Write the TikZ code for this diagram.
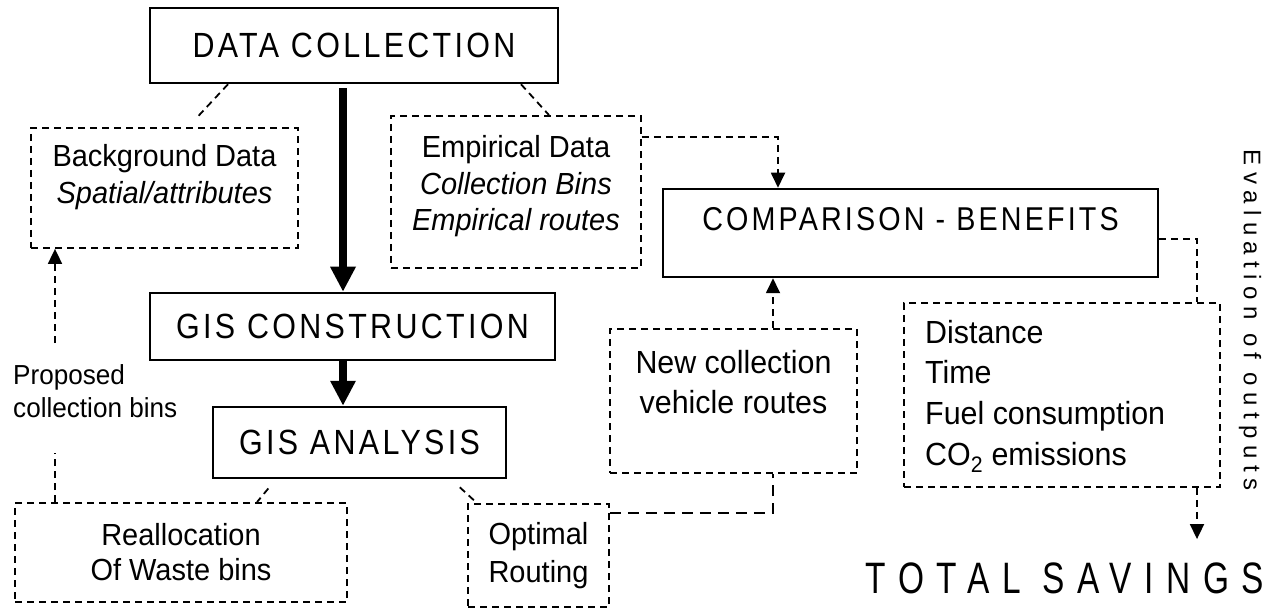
\documentclass[tikz,border=0pt]{standalone}
\usepackage{fontspec}
\setmainfont{Liberation Sans}[FakeStretch=0.95]
\newfontfamily\titlefont[FakeStretch=0.87, LetterSpace=9.5]{Liberation Sans}
\newfontfamily\totalfont[FakeStretch=0.76, LetterSpace=28.5]{Liberation Sans}
\newfontfamily\evalfont[LetterSpace=27]{Liberation Sans}
\usetikzlibrary{arrows.meta}

\begin{document}
\begin{tikzpicture}[
    x=1pt, y=-1pt,
    solidbox/.style={draw, line width=2.5pt, inner sep=0pt},
    dashbox/.style={draw, line width=1.8pt, dash pattern=on 7pt off 5pt, inner sep=0pt},
    boxtext/.style={align=center, inner sep=0pt, font=\fontsize{30.5}{36.5}\selectfont},
    titletext/.style={inner sep=0pt, font=\titlefont\fontsize{35}{40}\selectfont},
    mainflow/.style={draw, line width=8pt, -{Triangle[length=25pt, width=24pt]}},
    link/.style={draw, line width=1.8pt, dash pattern=on 7pt off 5pt},
    linkarrow/.style={link, -{Triangle[length=15pt, width=14pt]}}
]

\useasboundingbox (0,0) rectangle (1276,609);

% Solid boxes
\node[solidbox, titletext, minimum width=408, minimum height=75] (dc) at (354,45.5) {DATA COLLECTION};
\node[solidbox, titletext, minimum width=405, minimum height=67] (gisc) at (352.5,326.5) {GIS CONSTRUCTION};
\node[solidbox, titletext, minimum width=293, minimum height=71] (gisa) at (359.5,442.5) {GIS ANALYSIS};
\node[solidbox, minimum width=495, minimum height=88] (comp) at (910.5,233) {};
\node[titletext, font=\titlefont\fontsize{33}{38}\selectfont] (comptext) at (910.5,219) {COMPARISON - BENEFITS};

% Dashed boxes
\node[dashbox, minimum width=267, minimum height=120] (bg) at (164.5,188) {};
\node[boxtext] (bgtext) at (164.5,177) {Background Data\\\textit{Spatial/attributes}};
\node[dashbox, minimum width=250, minimum height=152] (emp) at (516,192) {};
\node[boxtext] (emptext) at (516,186.5) {Empirical Data\\\textit{Collection Bins}\\\textit{Empirical routes}};
\node[dashbox, minimum width=247, minimum height=144] (newc) at (733.5,401) {};
\node[boxtext, font=\fontsize{32}{40}\selectfont] (newctext) at (733.5,382) {New collection\\vehicle routes};
\node[dashbox, minimum width=316, minimum height=184] (dist) at (1062,395) {};
\node[boxtext, align=left, anchor=west, font=\fontsize{32}{40.7}\selectfont] (disttext) at (925,396)
    {Distance\\Time\\Fuel consumption\\CO\textsubscript{2} emissions};
\node[dashbox, boxtext, font=\fontsize{30.5}{35}\selectfont, minimum width=332, minimum height=99] (realloc) at (181,552.5)
    {Reallocation\\Of Waste bins};
\node[dashbox, boxtext, font=\fontsize{30.5}{38}\selectfont, minimum width=141, minimum height=103] (optim) at (538.5,555.5)
    {Optimal\\Routing};

% Free texts
\node[align=left, anchor=west, inner sep=0pt, font=\fontsize{27.5}{33}\selectfont] (propo) at (13,391.5)
    {Proposed\\collection bins};
\node[anchor=base, inner sep=0pt, font=\totalfont\fontsize{44}{50}\selectfont] (total) at (1065,593) {TOTAL SAVINGS};
\node[rotate=-90, inner sep=0pt, font=\evalfont\fontsize{24}{28}\selectfont] (eval) at (1250,320) {Evaluation of outputs};

% Main flow
\coordinate (spine) at (343,0);
\draw[mainflow, shorten <=4pt] (dc.south -| spine) -- (gisc.north -| spine);
\draw[mainflow] (gisc.south -| spine) -- (gisa.north -| spine);

% Dashed leaders
\foreach \a/\xa/\b/\xb/\s/\e in {dc/228/bg/188/0pt/11pt, dc/521/emp/549/0pt/0pt,
                                 gisa/276/realloc/257/12pt/0pt, gisa/451/optim/477/12pt/0pt} {
    \draw[link, shorten <=\s, shorten >=\e] (\a.south -| \xa,0) -- (\b.north -| \xb,0);
}

% Dashed connectors
\coordinate (pbot) at (55,453);
\coordinate (ptop) at (55,343);
\draw[link] (realloc.north -| pbot) -- (pbot);
\draw[linkarrow] (ptop) -- (bg.south -| ptop);
\draw[linkarrow] (emp.east |- 0,137) -| (comp.north -| 778,0);
\draw[linkarrow] (newc.north -| 773,0) -- (comp.south -| 773,0);
\draw[link, line width=2.6pt, dash pattern=on 11pt off 7pt] (optim.east |- 0,513) -| (newc.south -| 773,0);
\draw[link] (comp.east |- 0,239) -| (dist.north -| 1197,0);
\draw[linkarrow, shorten >=23pt] (dist.south -| 1197,0) -- (total.north -| 1197,0);

\end{tikzpicture}
\end{document}
